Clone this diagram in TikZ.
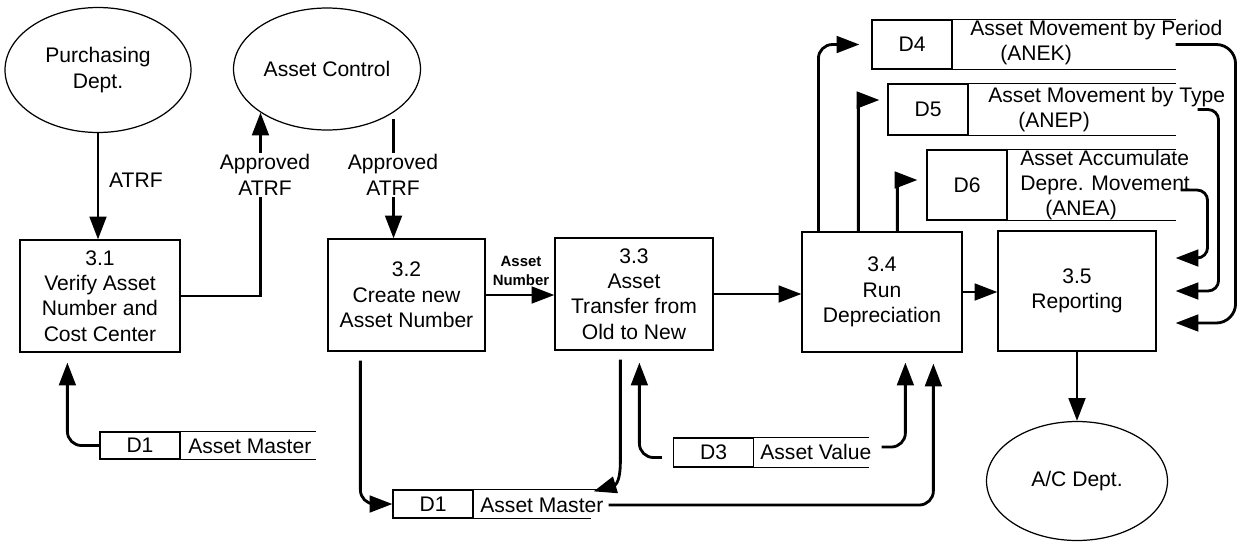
\documentclass[tikz,border=0pt]{standalone}
\usepackage{fontspec}
\setmainfont{Liberation Sans}
\usetikzlibrary{shapes.geometric,arrows.meta,positioning}

\begin{document}
\begin{tikzpicture}[x=0.02cm, y=-0.02cm,
        font=\fontsize{12}{14.4}\selectfont,
        proc/.style={draw, line width=0.7pt, minimum width=3.16cm, minimum height=2.24cm, align=center, inner sep=0pt},
        agent/.style={draw, ellipse, line width=0.7pt, align=center, inner sep=0pt},
        storeid/.style={draw, line width=0.7pt, minimum width=1.6cm, inner sep=0pt},
        storeline/.style={line width=0.7pt},
        storename/.style={anchor=west, align=left, inner sep=0pt},
        flow/.style={line width=1.6pt, -{Triangle[length=13pt, width=9.5pt]}},
        lbl/.style={fill=white, align=center, inner sep=1pt}]
        \useasboundingbox (0,0) rectangle (1237,542);

        % external entities
        \node[agent, minimum width=3.72cm, minimum height=2.5cm] (purch) at (98,70) {Purchasing\\Dept.};
        \node[agent, minimum width=3.74cm, minimum height=2.44cm] (ctrl) at (327,69) {Asset Control};
        \node[agent, minimum width=3.62cm, minimum height=2.38cm] (acdept) at (1077,481) {A/C Dept.};

        % processes
        \node[proc, minimum width=3.2cm] (p31) at (100,296) {3.1\\Verify Asset\\Number and\\Cost Center};
        \node[proc, minimum width=3.14cm] (p32) at (406.5,295) {3.2\\Create new\\Asset Number};
        \node[proc] (p33) at (634,294) {3.3\\Asset\\Transfer from\\Old to New};
        \node[proc, minimum width=3.2cm, minimum height=2.4cm] (p34) at (882,292) {3.4\\Run\\Depreciation};
        \node[proc, minimum height=2.4cm] (p35) at (1077,291) {3.5\\Reporting};

        % data stores
        \node[storeid, minimum height=0.98cm] (d4) at (912,44.5) {D4};
        \draw[storeline] (d4.north east) -- +(223,0) (d4.south east) -- +(223,0);
        \node[storename] (d4name) at (970,42.5) {Asset Movement by Period\\\hspace*{0.6cm}(ANEK)};
        \node[storeid, minimum height=1.02cm] (d5) at (928,109.5) {D5};
        \draw[storeline] (d5.north east) -- +(207,0) (d5.south east) -- +(207,0);
        \node[storename] (d5name) at (988,109.5) {Asset Movement by Type\\\hspace*{0.6cm}(ANEP)};
        \node[storeid, minimum height=1.4cm] (d6) at (967,185) {D6};
        \draw[storeline] (d6.north east) -- +(168,0) (d6.south east) -- +(168,0);
        \node[storename] (d6name) at (1020,185) {Asset Accumulate\\Depre. Movement\\\hspace*{0.5cm}(ANEA)};
        \node[storeid, minimum height=0.54cm] (d1a) at (140,445.5) {D1};
        \draw[storeline] (d1a.north east) -- +(135,0) (d1a.south east) -- +(135,0);
        \node[storename] (d1aname) at (188,446) {Asset Master};
        \node[storeid, minimum height=0.56cm] (d1b) at (433,504) {D1};
        \draw[storeline] (d1b.north east) -- +(139,0) (d1b.south east) -- +(117,0);
        \node[storename] (d1bname) at (480,505) {Asset Master};
        \node[storeid, minimum height=0.58cm] (d3) at (713.5,452.5) {D3};
        \draw[storeline] (d3.north east) -- +(115,0) (d3.south east) -- +(115,0);
        \node[storename] (d3name) at (760,452) {Asset Value};

        % flows between entities and processes
        \draw[flow] (purch.south) -- (purch.south |- p31.north);
        \node[anchor=west] (atrf) at (103,180) {ATRF};
        \draw[flow] (p31.east) -| (ctrl.south west);
        \node[lbl] (appr1) at (265,175) {Approved\\ATRF};
        \draw[flow, shorten <=0.12cm] (ctrl.south east) -- (ctrl.south east |- p32.north);
        \node[lbl] (appr2) at (393,175) {Approved\\ATRF};
        \draw[flow] (p32.east) -- (p32.east -| p33.west);
        \node[font=\fontsize{8.5}{10.5}\selectfont\bfseries, align=center] (anum) at (521,271) {Asset\\Number};
        \draw[flow] (p33.east) -- (p33.east -| p34.west);
        \draw[flow] (p34.east) -- (p34.east -| p35.west);
        \draw[flow] (p35.south) -- (acdept.north);

        % run depreciation to stores
        \draw[flow, rounded corners=8pt, shorten >=0.24cm] ([xshift=0.34cm]p34.north west) |- (d4.west);
        \draw[flow, rounded corners=3pt, shorten >=0.16cm] ([xshift=1.14cm]p34.north west) |- ([yshift=0.19cm]d5.west);
        \draw[flow, rounded corners=3pt, shorten >=0.18cm] ([xshift=1.92cm]p34.north west) |- ([yshift=0.1cm]d6.west);

        % stores to reporting
        \draw[flow, rounded corners=11pt, shorten >=0.38cm] ([xshift=4.46cm]d4.east) -- ++(60,0) |- ([yshift=-0.64cm]p35.east);
        \draw[flow, rounded corners=6pt, shorten >=0.38cm] ([xshift=4.58cm]d5.east) -- ++(21,0) |- (p35.east);
        \draw[flow, rounded corners=6pt, shorten >=0.38cm] ([xshift=3.46cm, yshift=-0.1cm]d6.east) -- ++(27,0) |- ([yshift=0.66cm]p35.east);

        % stores and processes below
        \draw[flow, rounded corners=8pt, shorten >=0.2cm] (d1a.west) -| ([xshift=0.96cm]p31.south west);
        \draw[flow, rounded corners=8pt, shorten <=0.18cm] ([xshift=0.66cm]p32.south west) |- (d1b.west);
        \draw[flow, shorten <=0.18cm] ([xshift=1.32cm]p33.south west) -- ++(0,110) .. controls +(0,25) and +(20,-6) .. ([xshift=2.4cm, yshift=-0.04cm]d1b.north east);
        \draw[flow, rounded corners=8pt, shorten <=0.1cm, shorten >=0.22cm] (d1bname.east) -| ([xshift=2.64cm]p34.south west);
        \draw[flow, rounded corners=8pt, shorten <=0.22cm, shorten >=0.24cm] ([yshift=-0.1cm]d3.west) -| ([xshift=1.7cm]p33.south west);
        \draw[flow, rounded corners=8pt, shorten <=0.2cm, shorten >=0.2cm] ([yshift=0.1cm]d3name.east) -| ([xshift=2.08cm]p34.south west);
\end{tikzpicture}
\end{document}
